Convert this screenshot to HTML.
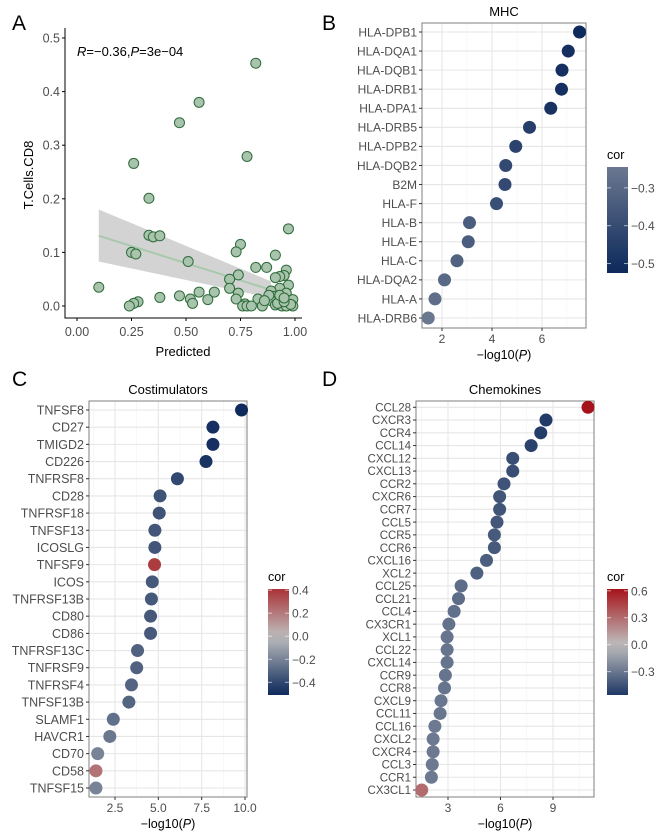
<!DOCTYPE html>
<html><head><meta charset="utf-8"><style>
body{margin:0;background:#fff;}
svg{display:block;font-family:"Liberation Sans",Arial,sans-serif;}
</style></head><body>
<svg id="fig" width="668" height="837" viewBox="0 0 668 837"></svg>
<script>
// ---------- Panel A data ----------
const aX = [0.82,0.56,0.47,0.78,0.26,0.33,0.97,0.33,0.35,0.38,0.75,0.73,0.25,0.27,0.91,0.51,0.82,0.87,0.96,0.74,0.95,0.93,0.91,0.70,0.97,0.10,0.93,0.70,0.89,0.56,0.63,0.74,0.96,0.47,0.38,0.90,0.52,0.73,0.60,0.83,0.89,0.97,0.99,0.28,0.26,0.53,0.77,0.24,0.76,0.78,0.80,0.85,0.91,0.94,0.96,0.99,0.92,0.98,0.95,0.93,0.88,0.86,0.95];
const aY = [0.453,0.380,0.342,0.279,0.266,0.201,0.144,0.132,0.129,0.131,0.115,0.101,0.100,0.097,0.095,0.083,0.072,0.072,0.067,0.058,0.057,0.055,0.053,0.050,0.039,0.035,0.033,0.033,0.028,0.026,0.026,0.024,0.024,0.019,0.016,0.018,0.013,0.013,0.012,0.013,0.010,0.010,0.012,0.008,0.005,0.005,0.004,0.000,0.000,0.000,0.000,0.000,0.002,0.000,0.000,0.000,0.005,0.003,0.008,0.020,0.020,0.010,0.015];
const aXTicks = [0,0.25,0.5,0.75,1.0];
const aXTickLabels = ["0.00","0.25","0.50","0.75","1.00"];
const aYTicks = [0,0.1,0.2,0.3,0.4,0.5];
const aYTickLabels = ["0.0","0.1","0.2","0.3","0.4","0.5"];
const aFitX = [0.10,0.89];
const aFitY = [0.131,0.030];
const aBandLo = [0.083,0.015];
const aBandHi = [0.180,0.046];

// ---------- Panel B data ----------
const bGenes = ["HLA-DPB1","HLA-DQA1","HLA-DQB1","HLA-DRB1","HLA-DPA1","HLA-DRB5","HLA-DPB2","HLA-DQB2","B2M","HLA-F","HLA-B","HLA-E","HLA-C","HLA-DQA2","HLA-A","HLA-DRB6"];
const bLogP = [7.5,7.05,6.8,6.78,6.35,5.5,4.95,4.55,4.52,4.18,3.1,3.05,2.6,2.1,1.72,1.45];
const bCor = [-0.52,-0.50,-0.50,-0.50,-0.49,-0.45,-0.43,-0.41,-0.41,-0.39,-0.34,-0.34,-0.32,-0.30,-0.28,-0.25];
const bXTicks = [2,4,6];
const bCbTicks = [-0.3,-0.4,-0.5];

// ---------- Panel C data ----------
const cGenes = ["TNFSF8","CD27","TMIGD2","CD226","TNFRSF8","CD28","TNFRSF18","TNFSF13","ICOSLG","TNFSF9","ICOS","TNFRSF13B","CD80","CD86","TNFRSF13C","TNFRSF9","TNFRSF4","TNFSF13B","SLAMF1","HAVCR1","CD70","CD58","TNFSF15"];
const cLogP = [9.8,8.15,8.15,7.75,6.1,5.1,5.05,4.8,4.8,4.78,4.65,4.6,4.55,4.55,3.8,3.75,3.45,3.3,2.4,2.2,1.5,1.4,1.4];
const cCor = [-0.5,-0.48,-0.48,-0.47,-0.4,-0.36,-0.36,-0.35,-0.35,0.38,-0.34,-0.34,-0.34,-0.34,-0.31,-0.31,-0.3,-0.3,-0.26,-0.24,-0.2,0.22,-0.2];
const cXTicks = [2.5,5.0,7.5,10.0];
const cXTickLabels = ["2.5","5.0","7.5","10.0"];
const cCbTicks = [0.4,0.2,0.0,-0.2,-0.4];

// ---------- Panel D data ----------
const dGenes = ["CCL28","CXCR3","CCR4","CCL14","CXCL12","CXCL13","CCR2","CXCR6","CCR7","CCL5","CCR5","CCR6","CXCL16","XCL2","CCL25","CCL21","CCL4","CX3CR1","XCL1","CCL22","CXCL14","CCR9","CCR8","CXCL9","CCL11","CCL16","CXCL2","CXCR4","CCL3","CCR1","CX3CL1"];
const dLogP = [11.0,8.6,8.3,7.75,6.7,6.7,6.2,5.95,5.95,5.8,5.65,5.65,5.2,4.65,3.75,3.6,3.35,3.05,2.95,2.95,2.95,2.85,2.8,2.6,2.55,2.25,2.15,2.15,2.1,2.05,1.5];
const dCor = [0.62,-0.55,-0.54,-0.52,-0.47,-0.47,-0.45,-0.44,-0.44,-0.43,-0.42,-0.42,-0.4,-0.39,-0.34,-0.34,-0.33,-0.32,-0.31,-0.31,-0.31,-0.31,-0.31,-0.3,-0.3,-0.29,-0.29,-0.29,-0.29,-0.29,0.3];
const dXTicks = [3,6,9];
const dCbTicks = [0.6,0.3,0.0,-0.3];

const NS="http://www.w3.org/2000/svg";
const fig=document.getElementById('fig');
function mk(tag,attrs,parent,text){const e=document.createElementNS(NS,tag);for(const k in attrs)e.setAttribute(k,attrs[k]);if(text!==undefined)e.textContent=text;(parent||fig).appendChild(e);return e;}

// colour scale: navy - gray - red (gradient2 style, mid 0)
const LOW=[14,42,92],MID=[190,190,190],HIGH=[165,20,26];
function mix(a,b,t){return 'rgb('+a.map((v,i)=>Math.round(v+(b[i]-v)*t)).join(',')+')';}
function colr(v,m){const t=Math.max(-1,Math.min(1,v/m));return t<0?mix(MID,LOW,-t):mix(MID,HIGH,t);}

// panel letters
[["A",12,30],["B",322,30],["C",12,386],["D",322,386]].forEach(p=>{
 const t=mk('text',{x:p[1],y:p[2],'font-size':21,fill:'#000'},fig,p[0]);
 
 
});

// ---------- Panel A ----------
(function(){
 const g=mk('g',{});
 
 
 const sx=v=>77+v*218, sy=v=>306-v*536;
 // band
 const band=mk('polygon',{points:[sx(aFitX[0])+','+sy(aBandHi[0]),sx(aFitX[1])+','+sy(aBandHi[1]),sx(aFitX[1])+','+sy(aBandLo[1]),sx(aFitX[0])+','+sy(aBandLo[0])].join(' '),fill:'#c8c8c8','fill-opacity':0.8},g);
 
 
 const ln=mk('line',{x1:sx(aFitX[0]),y1:sy(aFitY[0]),x2:sx(aFitX[1]),y2:sy(aFitY[1]),stroke:'#a9c9ad','stroke-width':2},g);
 
 
 for(let i=0;i<aX.length;i++){
  const c=mk('circle',{cx:sx(aX[i]),cy:sy(aY[i]),r:5,fill:'#a8c4ac',stroke:'#2e6b3a','stroke-width':1},g);
  
  
 }
 const ax=mk('path',{d:'M65,28 V318 H302',fill:'none',stroke:'#000','stroke-width':1},g);
 
 
 aYTicks.forEach((v,i)=>{
  mk('line',{x1:62,x2:65,y1:sy(v),y2:sy(v),stroke:'#000'},g);
  const t=mk('text',{x:60,y:sy(v)+4.5,'font-size':12.5,fill:'#4d4d4d','text-anchor':'end'},g,aYTickLabels[i]);
  
  
 });
 aXTicks.forEach((v,i)=>{
  mk('line',{x1:sx(v),x2:sx(v),y1:318,y2:321,stroke:'#000'},g);
  const t=mk('text',{x:sx(v),y:336,'font-size':12.5,fill:'#4d4d4d','text-anchor':'middle'},g,aXTickLabels[i]);
  
  
 });
 const xt=mk('text',{x:183,y:356,'font-size':13,'text-anchor':'middle',fill:'#000'},g,'Predicted');
 
 
 const yt=mk('text',{x:0,y:0,'font-size':13,'text-anchor':'middle',fill:'#000',transform:'translate(33,175) rotate(-90)'},g,'T.Cells.CD8');
 
 
 const an=mk('text',{x:77,y:56,'font-size':13,fill:'#000'},g);
 
 
 an.innerHTML='<tspan font-style="italic">R</tspan>=\u22120.36,<tspan font-style="italic">P</tspan>=3e\u221204';
})();

// ---------- generic dot plot ----------
function dotPlot(o){
 const g=mk('g',{});
 
 
 const sx=v=>o.x0+v*o.kx;
 const n=o.genes.length;
 const sy=i=>o.yTop+i*(o.yBot-o.yTop)/(n-1);
 mk('rect',{x:o.L,y:o.T,width:o.R-o.L,height:o.B-o.T,fill:'#fff'},g);
 // minor grid
 o.minor.forEach(v=>mk('line',{x1:sx(v),x2:sx(v),y1:o.T,y2:o.B,stroke:'#f3f3f3','stroke-width':0.6},g));
 o.ticks.forEach(v=>mk('line',{x1:sx(v),x2:sx(v),y1:o.T,y2:o.B,stroke:'#e6e6e6','stroke-width':1.1},g));
 for(let i=0;i<n;i++) mk('line',{x1:o.L,x2:o.R,y1:sy(i),y2:sy(i),stroke:'#e6e6e6','stroke-width':1.1},g);
 const fr=mk('rect',{x:o.L,y:o.T,width:o.R-o.L,height:o.B-o.T,fill:'none',stroke:'#7f7f7f','stroke-width':1},g);
 
 
 for(let i=0;i<n;i++){
  mk('line',{x1:o.L-3,x2:o.L,y1:sy(i),y2:sy(i),stroke:'#333'},g);
  const t=mk('text',{x:o.L-5,y:sy(i)+o.fs*0.36,'font-size':o.fs,fill:'#4d4d4d','text-anchor':'end'},g,o.genes[i]);
  
  
  const c=mk('circle',{cx:sx(o.vals[i]),cy:sy(i),r:o.r,fill:colr(o.cor[i],o.m)},g);
  
  
 }
 o.ticks.forEach((v,i)=>{
  mk('line',{x1:sx(v),x2:sx(v),y1:o.B,y2:o.B+3,stroke:'#333'},g);
  const t=mk('text',{x:sx(v),y:o.B+15,'font-size':12,fill:'#4d4d4d','text-anchor':'middle'},g,o.tickLabels?o.tickLabels[i]:String(v));
  
  
 });
 const xt=mk('text',{x:(o.L+o.R)/2,y:o.B+31,'font-size':12.5,'text-anchor':'middle',fill:'#000'},g);
 
 
 xt.innerHTML='\u2212log10(<tspan font-style="italic">P</tspan>)';
 const tt=mk('text',{x:(o.L+o.R)/2,y:o.T-7,'font-size':13,'text-anchor':'middle',fill:'#000'},g,o.title);
 
 
 // colour bar
 const id='grad'+o.name;
 const defs=mk('defs',{},g);
 const lg=mk('linearGradient',{id:id,x1:0,y1:1,x2:0,y2:0},defs);
 for(let k=0;k<=10;k++){const v=o.cbLo+(o.cbHi-o.cbLo)*k/10;mk('stop',{offset:k/10,'stop-color':colr(v,o.m)},lg);}
 const cb=mk('rect',{x:o.cbX,y:o.cbT,width:21,height:o.cbB-o.cbT,fill:'url(#'+id+')'},g);
 
 
 const cy=v=>o.cbB-(v-o.cbLo)/(o.cbHi-o.cbLo)*(o.cbB-o.cbT);
 o.cbTicks.forEach(v=>{
  mk('line',{x1:o.cbX,x2:o.cbX+4,y1:cy(v),y2:cy(v),stroke:'#fff','stroke-opacity':0.6},g);
  mk('line',{x1:o.cbX+17,x2:o.cbX+21,y1:cy(v),y2:cy(v),stroke:'#fff','stroke-opacity':0.6},g);
  const t=mk('text',{x:o.cbX+24,y:cy(v)+4.5,'font-size':12,fill:'#4d4d4d'},g,(v<0?'\u2212':'')+Math.abs(v).toFixed(1));
  
  
 });
 const lt=mk('text',{x:o.cbX,y:o.cbT-8,'font-size':12.5,fill:'#000'},g,'cor');
 
 
}

dotPlot({name:'mhc-panel',title:'MHC',genes:bGenes,vals:bLogP,cor:bCor,m:0.52,L:422,R:586,T:23,B:328,x0:392,kx:25,yTop:32,yBot:318,
 ticks:bXTicks,minor:[1,3,5,7],fs:12,r:6.5,cbX:607,cbT:167,cbB:273,cbLo:-0.525,cbHi:-0.245,cbTicks:bCbTicks});
dotPlot({name:'costimulators-panel',title:'Costimulators',genes:cGenes,vals:cLogP,cor:cCor,m:0.5,L:89,R:247,T:401,B:797,x0:71.7,kx:17.33,yTop:410,yBot:788,
 ticks:cXTicks,tickLabels:cXTickLabels,minor:[1.25,3.75,6.25,8.75],fs:12.5,r:6.5,cbX:268,cbT:589,cbB:695,cbLo:-0.51,cbHi:0.41,cbTicks:cCbTicks});
dotPlot({name:'chemokines-panel',title:'Chemokines',genes:dGenes,vals:dLogP,cor:dCor,m:0.62,L:416,R:594,T:401,B:797,x0:395.5,kx:17.5,yTop:407.3,yBot:790,
 ticks:dXTicks,minor:[1.5,4.5,7.5,10.5],fs:11.5,r:6.5,cbX:607,cbT:589,cbB:695,cbLo:-0.56,cbHi:0.62,cbTicks:dCbTicks});
</script>
</body></html>
